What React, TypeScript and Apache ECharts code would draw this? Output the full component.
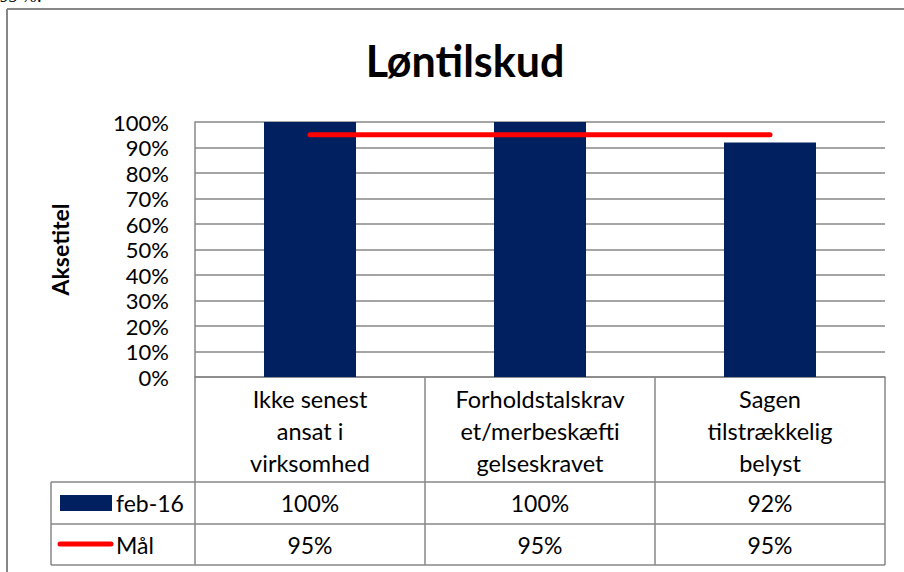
import React, { useEffect, useRef } from "react";
import * as echarts from "echarts";

const categories = [
  "Ikke senest ansat i virksomhed",
  "Forholdstalskrav/merbeskæftigelseskravet",
  "Sagen tilstrækkelig belyst",
];
const categoryLabels = [
  "Ikke senest\nansat i\nvirksomhed",
  "Forholdstalskrav\net/merbeskæfti\ngelseskravet",
  "Sagen\ntilstrækkelig\nbelyst",
];
const feb16 = [1.0, 1.0, 0.92];
const maal = [0.95, 0.95, 0.95];
const seriesNames = ["feb-16", "Mål"];
const yTicks = [0, 0.1, 0.2, 0.3, 0.4, 0.5, 0.6, 0.7, 0.8, 0.9, 1.0];

const NAVY = "#002060";
const RED = "#FF0000";
const GRID = "#878787";
const FONT = "Lato, 'Open Sans', sans-serif";

const pct = (v: number) => `${Math.round(v * 100)}%`;

export default function App() {
  const ref = useRef<HTMLDivElement>(null);
  useEffect(() => {
    if (!ref.current) return;
    const chart = echarts.init(ref.current, null, { renderer: "svg" });
    const L = 195, R = 885, T = 122, B = 377;
    const tableLeft = 51, row1 = 482, row2 = 524, row3 = 565;
    const colW = (R - L) / categories.length;
    const line = (x1: number, y1: number, x2: number, y2: number, w = 1.5) => ({
      type: "line",
      shape: { x1, y1, x2, y2 },
      style: { stroke: GRID, lineWidth: w },
      silent: true,
    });
    const tableLines: any[] = [
      line(L, B, L, row3),
      line(R, B, R, row3),
      line(tableLeft, row1, tableLeft, row3),
      line(tableLeft, row1, R, row1),
      line(tableLeft, row2, R, row2),
      line(tableLeft, row3, R, row3),
    ];
    for (let i = 1; i < categories.length; i++) {
      tableLines.push(line(L + colW * i, B, L + colW * i, row3));
    }
    const rowLabel = (y: number, txt: string) => ({
      type: "text",
      x: 116,
      y,
      style: {
        text: txt,
        font: `23px ${FONT}`,
        fill: "#000",
        verticalAlign: "middle",
        align: "left",
      },
    });
    const valueAxis = (offset: number, vals: number[]) => ({
      type: "category",
      data: categories,
      position: "bottom",
      offset,
      axisLine: { show: false },
      axisTick: { show: false },
      axisLabel: {
        fontFamily: FONT,
        fontSize: 23,
        color: "#000",
        margin: 9,
        formatter: (_v: string, i: number) => pct(vals[i]),
      },
    });
    chart.setOption({
      animation: false,
      backgroundColor: "#fff",
      title: {
        text: "Løntilskud",
        left: 460,
        textAlign: "center",
        top: 34,
        textStyle: { fontFamily: FONT, fontWeight: "bold", fontSize: 43, color: "#000" },
      },
      grid: { left: L, right: 904 - R, top: T, height: B - T, containLabel: false },
      xAxis: [
        {
          type: "category",
          data: categoryLabels,
          axisLine: { show: true, lineStyle: { color: GRID, width: 1.5 } },
          axisTick: { show: false },
          axisLabel: {
            fontFamily: FONT,
            fontSize: 23.5,
            lineHeight: 32,
            color: "#000",
            margin: 6,
          },
        },
        valueAxis(row1 - B, feb16),
        valueAxis(row2 - B, maal),
      ],
      yAxis: {
        type: "value",
        min: yTicks[0],
        max: yTicks[yTicks.length - 1],
        interval: 0.1,
        name: "Aksetitel",
        nameLocation: "middle",
        nameGap: 124,
        nameRotate: 90,
        nameTextStyle: { fontFamily: FONT, fontWeight: "bold", fontSize: 23, color: "#000" },
        axisLine: { show: true, lineStyle: { color: GRID, width: 1.5 } },
        axisTick: { show: false },
        splitLine: { show: true, lineStyle: { color: GRID, width: 1.5 } },
        axisLabel: {
          fontFamily: FONT,
          fontSize: 22,
          color: "#000",
          margin: 26,
          formatter: (v: number) => pct(v),
        },
      },
      series: [
        {
          name: seriesNames[0],
          type: "bar",
          data: feb16,
          barWidth: "40%",
          itemStyle: { color: NAVY },
        },
        {
          name: seriesNames[1],
          type: "line",
          data: maal,
          symbol: "none",
          lineStyle: { color: RED, width: 5, cap: "round" },
          itemStyle: { color: RED },
        },
      ],
      graphic: [
        {
          type: "text",
          left: 0,
          top: -13,
          style: { text: "95 %.", font: `italic 18px 'Liberation Serif', serif`, fill: "#000" },
        },
        line(7, 9, 904, 9, 2),
        line(7, 9, 7, 572, 2),
        ...tableLines,
        {
          type: "rect",
          shape: { x: 60, y: 495, width: 52, height: 16 },
          style: { fill: NAVY },
        },
        {
          type: "line",
          shape: { x1: 60, y1: 544, x2: 111, y2: 544 },
          style: { stroke: RED, lineWidth: 5, lineCap: "round" },
        },
        rowLabel(503, seriesNames[0]),
        rowLabel(545, seriesNames[1]),
      ],
    });
    return () => chart.dispose();
  }, []);
  return (
    <div
      ref={ref}
      style={{ position: "fixed", left: 0, top: 0, width: 904, height: 572 }}
    />
  );
}
